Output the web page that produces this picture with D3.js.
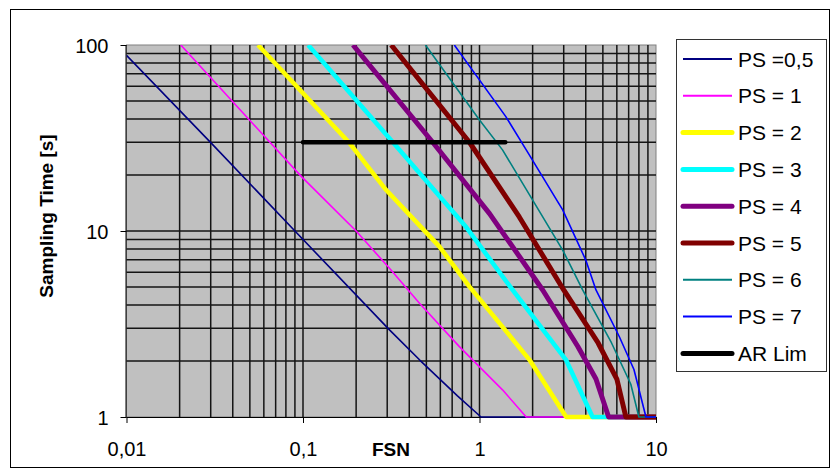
<!DOCTYPE html>
<html>
<head>
<meta charset="utf-8">
<script src="https://cdn.jsdelivr.net/npm/d3@7"></script>
<style>
  body { margin: 0; background: #fff; }
  text { font-family: "Liberation Sans", Arial, sans-serif; }
</style>
</head>
<body>
<div id="chart"></div>
<script>
// Data (FSN, sampling time [s])
const seriesNames = ['PS =0,5', 'PS = 1', 'PS = 2', 'PS = 3', 'PS = 4', 'PS = 5', 'PS = 6', 'PS = 7', 'AR Lim'];

const ps05 = [[0.01, 88], [0.0303, 29.6], [0.09, 10], [0.309, 2.94], [0.457, 2.03], [0.75, 1.3], [1.02, 1], [10, 1]];
const ps1 = [[0.0203, 100], [0.098, 19.6], [0.2, 10], [0.309, 6.3], [0.457, 4.09], [0.769, 2.39], [1.35, 1.4], [1.84, 1], [10, 1]];
const ps2 = [[0.0556, 100], [0.184, 29.6], [0.296, 16.6], [0.593, 8.24], [0.877, 5.02], [1.92, 2.03], [3.1, 1], [10, 1]];
const ps3 = [[0.107, 100], [0.323, 30], [0.84, 10.5], [1.54, 4.82], [3.09, 2.03], [4.37, 1], [10, 1]];
const ps4 = [[0.192, 100], [0.543, 30], [1.14, 12.4], [2.28, 4.82], [3.6, 2.4], [4.57, 1.6], [5.39, 1], [10, 1]];
const ps5 = [[0.316, 100], [0.877, 30], [1.68, 11.9], [3.0, 4.82], [4.7, 2.5], [6.0, 1.6], [6.75, 1], [10, 1]];
const ps6 = [[0.494, 100], [1.0, 39.5], [1.35, 27.3], [2.96, 7.9], [3.84, 4.82], [5.6, 2.5], [7.2, 1.5], [8.0, 1], [10, 1]];
const ps7 = [[0.72, 100], [1.41, 41.2], [1.84, 27.3], [2.96, 13.0], [4.0, 6.98], [4.57, 4.82], [6.2, 2.7], [7.5, 1.8], [8.77, 1], [10, 1]];
const arLim = [[0.1, 30], [1.4, 30]];

const xTicks = [0.01, 0.1, 1, 10];
const xTickLabels = ['0,01', '0,1', '1', '10'];
const yTicks = [1, 10, 100];
const yTickLabels = ['1', '10', '100'];

// Styles
const seriesColors = ['#000080', '#ff00ff', '#ffff00', '#00ffff', '#800080', '#800000', '#008080', '#0000ff', '#000000'];
const seriesWidths = [1.6, 1.6, 4.5, 4.5, 5, 5, 1.6, 1.6, 4.5];
const allSeries = [ps05, ps1, ps2, ps3, ps4, ps5, ps6, ps7, arLim];

// Dimensions
const dimensions = {
    width: 831,
    height: 472,
    plot: { left: 126.5, top: 45, right: 656, bottom: 417 }
};

// Scales
const xScale = d3.scaleLog()
    .domain([0.01, 10])
    .range([dimensions.plot.left, dimensions.plot.right]);

const yScale = d3.scaleLog()
    .domain([1, 100])
    .range([dimensions.plot.bottom, dimensions.plot.top]);

const svg = d3.select('#chart')
    .append('svg')
    .attr('width', dimensions.width)
    .attr('height', dimensions.height);

// outer frame
svg.append('rect')
    .attr('x', 10.5).attr('y', 9.5)
    .attr('width', 819).attr('height', 458)
    .attr('fill', '#fff')
    .attr('stroke', '#000');

// plot background
svg.append('rect')
    .attr('x', xScale(0.01)).attr('y', yScale(100))
    .attr('width', xScale(10) - xScale(0.01))
    .attr('height', yScale(1) - yScale(100))
    .attr('fill', '#c0c0c0')
    .attr('stroke', '#808080');

// grid
const xGrid = d3.range(-2, 1).flatMap(e => d3.range(1, 10).map(m => m * Math.pow(10, e))).concat([10]);
const yGrid = d3.range(0, 2).flatMap(e => d3.range(1, 10).map(m => m * Math.pow(10, e))).concat([100]);

const grid = svg.append('g').attr('stroke', '#141414').attr('stroke-width', 1.5);
grid.selectAll('.vx')
    .data(xGrid.slice(1, -1))
    .join('line')
    .attr('x1', d => xScale(d)).attr('x2', d => xScale(d))
    .attr('y1', yScale(100)).attr('y2', yScale(1));
grid.selectAll('.hy')
    .data(yGrid.slice(1, -1))
    .join('line')
    .attr('y1', d => yScale(d)).attr('y2', d => yScale(d))
    .attr('x1', xScale(0.01)).attr('x2', xScale(10));

// axes
const xAxis = d3.axisBottom(xScale)
    .tickValues(xTicks)
    .tickSize(6)
    .tickFormat((d, i) => xTickLabels[i]);

const xAxisGroup = svg.append('g')
    .attr('transform', `translate(0,${dimensions.plot.bottom})`)
    .call(xAxis);
xAxisGroup.select('.domain').attr('d', `M${xScale(0.01)},0.5H${xScale(10)}`).attr('stroke', '#000');
xAxisGroup.selectAll('text')
    .attr('y', 39)
    .attr('dy', 0)
    .attr('font-size', 20)
    .attr('font-family', '"Liberation Sans", Arial, sans-serif')
    .attr('fill', '#000');

const yAxis = d3.axisLeft(yScale)
    .tickValues(yTicks)
    .tickSize(6)
    .tickFormat((d, i) => yTickLabels[i]);

const yAxisGroup = svg.append('g')
    .attr('transform', `translate(${dimensions.plot.left},0)`)
    .call(yAxis);
yAxisGroup.select('.domain').attr('d', `M-0.5,${yScale(100)}V${yScale(1)}`).attr('stroke', '#000');
yAxisGroup.selectAll('text')
    .attr('x', -18)
    .attr('dy', '0.36em')
    .attr('font-size', 20)
    .attr('font-family', '"Liberation Sans", Arial, sans-serif')
    .attr('fill', '#000');

// axis titles
svg.append('text')
    .attr('x', 391)
    .attr('y', 456)
    .attr('text-anchor', 'middle')
    .attr('font-size', 19)
    .attr('font-weight', 'bold')
    .text('FSN');

svg.append('text')
    .attr('transform', 'translate(53,216) rotate(-90)')
    .attr('text-anchor', 'middle')
    .attr('font-size', 19)
    .attr('font-weight', 'bold')
    .text('Sampling Time [s]');

// series
svg.append('clipPath')
    .attr('id', 'plot-clip')
    .append('rect')
    .attr('x', xScale(0.01)).attr('y', yScale(100))
    .attr('width', xScale(10) - xScale(0.01))
    .attr('height', yScale(1) - yScale(100) + 3);

const line = d3.line()
    .x(d => xScale(d[0]))
    .y(d => yScale(d[1]));

svg.append('g')
    .attr('clip-path', 'url(#plot-clip)')
    .selectAll('path')
    .data(allSeries)
    .join('path')
    .attr('d', line)
    .attr('fill', 'none')
    .attr('stroke', (d, i) => seriesColors[i])
    .attr('stroke-width', (d, i) => seriesWidths[i])
    .attr('stroke-linecap', (d, i) => i === 8 ? 'round' : 'butt')
    .attr('stroke-linejoin', 'round');

// legend
const legend = svg.append('g');
legend.append('rect')
    .attr('x', 676.5).attr('y', 39.5)
    .attr('width', 150).attr('height', 332)
    .attr('fill', '#fff')
    .attr('stroke', '#333');

const legendItems = legend.selectAll('.item')
    .data(seriesNames)
    .join('g')
    .attr('transform', (d, i) => `translate(0,${59 + i * 36.8})`);

legendItems.append('line')
    .attr('x1', 683).attr('x2', 732)
    .attr('stroke', (d, i) => seriesColors[i])
    .attr('stroke-width', (d, i) => seriesWidths[i] > 2 ? 5 : 2)
    .attr('stroke-linecap', (d, i) => seriesWidths[i] > 2 ? 'round' : 'butt');

legendItems.append('text')
    .attr('x', 738)
    .attr('dy', '0.36em')
    .attr('font-size', 21)
    .text(d => d);
</script>
</body>
</html>
